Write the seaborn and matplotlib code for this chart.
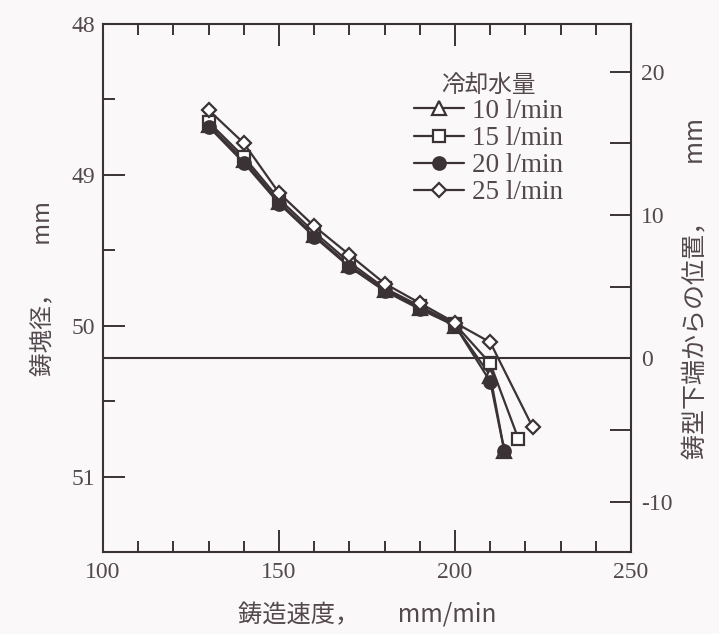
import matplotlib
matplotlib.use("Agg")
import matplotlib.pyplot as plt
import pandas as pd
import seaborn as sns
from matplotlib.ticker import MultipleLocator, FixedLocator
from matplotlib.lines import Line2D

# Casting speed (mm/min) and ingot diameter (mm) for each cooling-water flow
speed_10 = [130, 140, 150, 160, 170, 180, 190, 200, 210, 214]
diam_10 = [48.67, 48.90, 49.18, 49.40, 49.60, 49.76, 49.88, 50.00, 50.33, 50.83]
speed_15 = [130, 140, 150, 160, 170, 180, 190, 200, 210, 218]
diam_15 = [48.65, 48.88, 49.16, 49.38, 49.58, 49.75, 49.87, 49.99, 50.25, 50.75]
speed_20 = [130, 140, 150, 160, 170, 180, 190, 200, 210, 214]
diam_20 = [48.68, 48.92, 49.19, 49.41, 49.61, 49.77, 49.89, 50.00, 50.37, 50.83]
speed_25 = [130, 140, 150, 160, 170, 180, 190, 200, 210, 222]
diam_25 = [48.57, 48.79, 49.12, 49.34, 49.53, 49.72, 49.85, 49.98, 50.11, 50.67]

flow_labels = ["10 l/min", "15 l/min", "20 l/min", "25 l/min"]
legend_title = "冷却水量"
x_label = "鋳造速度，       mm/min"
y_label_left = "鋳塊径，       mm"
y_label_right = "鋳型下端からの位置，        mm"

x_ticks = [100, 150, 200, 250]
left_ticks = [48, 49, 50, 51]
right_ticks = [-10, 0, 10, 20]

ink = "#3b3236"
text_c = "#53484d"
bg = "#faf8f9"

sns.set_theme(style="ticks")
serif = ["Liberation Serif", "DejaVu Serif"]
cjk = ["Noto Sans CJK JP", "DejaVu Sans"]
plt.rcParams["font.family"] = serif
plt.rcParams["axes.unicode_minus"] = False
plt.rcParams["text.color"] = text_c
plt.rcParams["axes.labelcolor"] = text_c
plt.rcParams["xtick.color"] = ink
plt.rcParams["ytick.color"] = ink
plt.rcParams["xtick.labelcolor"] = text_c
plt.rcParams["ytick.labelcolor"] = text_c

fig = plt.figure(figsize=(7.19, 6.34), dpi=100, facecolor=bg)
ax = fig.add_axes([0.1433, 0.1293, 0.7344, 0.8328])
ax.set_facecolor(bg)

series = [
    (speed_10, diam_10, "^", "white", 9.5),
    (speed_15, diam_15, "s", "white", 9.0),
    (speed_20, diam_20, "o", ink, 9.0),
    (speed_25, diam_25, "D", "white", 7.0),
]

handles = []
for (xs, ys, mk, fc, ms), lab in zip(series, flow_labels):
    df = pd.DataFrame({"speed": xs, "diam": ys})
    sns.lineplot(data=df, x="speed", y="diam", ax=ax, sort=False, estimator=None,
                 color=ink, lw=1.6, marker=mk, markersize=ms,
                 markerfacecolor=fc, markeredgecolor=ink, markeredgewidth=1.6,
                 legend=False, zorder=3)
    handles.append(Line2D([], [], color=ink, lw=1.6, marker=mk, markersize=ms,
                          markerfacecolor=fc, markeredgecolor=ink,
                          markeredgewidth=1.6, label=lab))

ax.set_xlim(100, 250)
ax.set_ylim(51.5, 48.0)

ax.xaxis.set_major_locator(FixedLocator(x_ticks))
ax.xaxis.set_minor_locator(MultipleLocator(10))
ax.yaxis.set_major_locator(FixedLocator(left_ticks))
ax.yaxis.set_minor_locator(MultipleLocator(0.5))
ax.tick_params(axis="x", which="both", direction="in", top=True, bottom=True,
               labelsize=17, pad=7, width=1.4)
ax.tick_params(axis="x", which="major", length=16)
ax.tick_params(axis="x", which="minor", length=8)
ax.tick_params(axis="y", which="both", direction="in", left=True, right=False,
               labelsize=17, pad=6, width=1.4)
ax.tick_params(axis="y", which="major", length=16)
ax.tick_params(axis="y", which="minor", length=8.5)

for s in ax.spines.values():
    s.set_linewidth(1.5)
    s.set_color(ink)

ax2 = ax.twinx()
ax2.set_ylim(-13.5, 23.33)
ax2.yaxis.set_major_locator(FixedLocator(right_ticks))
ax2.yaxis.set_minor_locator(MultipleLocator(5))
ax2.tick_params(axis="y", which="both", direction="in", right=True, left=False,
                labelsize=17, pad=7, width=1.4, length=15)
for s in ax2.spines.values():
    s.set_visible(False)

# mould lower end reference line
ax2.axhline(0, color=ink, lw=1.5, zorder=2)

ax.set_xlabel(x_label, family=cjk, fontsize=17.5, labelpad=14)
ax.set_ylabel(y_label_left, family=cjk, fontsize=17, labelpad=12)
ax2.set_ylabel(y_label_right, family=cjk, fontsize=18, labelpad=7)

leg = ax.legend(handles=handles, loc="upper left", bbox_to_anchor=(0.588, 0.906),
                frameon=False, fontsize=19.5, handlelength=1.85, handletextpad=0.3,
                labelspacing=0.08, borderaxespad=0, borderpad=0)
leg.set_title(legend_title, prop={"family": cjk, "size": 17})
leg.get_title().set_color(text_c)

fig.savefig("out.png", dpi=100, facecolor=bg)
